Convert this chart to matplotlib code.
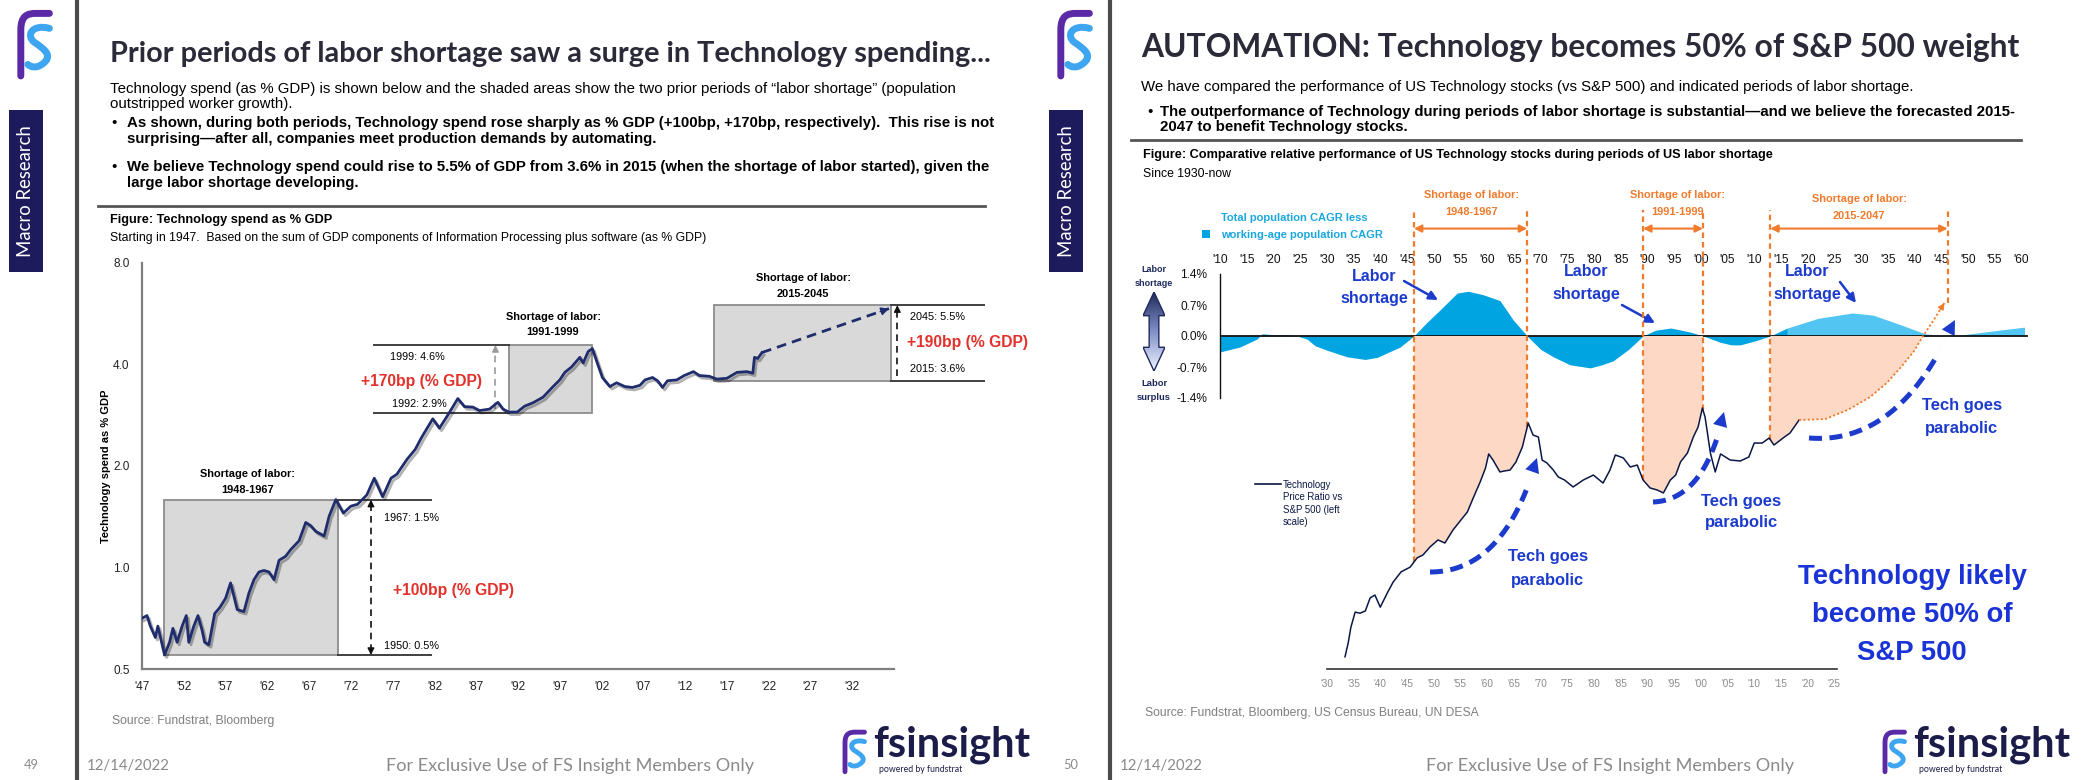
import numpy as np
import matplotlib
matplotlib.use("Agg")
import matplotlib.pyplot as plt
import matplotlib.patheffects as pe
from matplotlib.patches import Rectangle, Polygon, FancyArrowPatch, PathPatch
from matplotlib.lines import Line2D
from matplotlib.path import Path
from matplotlib.colors import LinearSegmentedColormap

# ---------------- DATA : left chart (Technology spend as % GDP) ----------------
spend_years = [1947.0, 1947.6, 1948.0, 1948.6, 1948.9, 1949.7, 1950.3, 1950.7, 1951.2, 1951.8,
               1952.3, 1952.6, 1953.2, 1953.7, 1954.2, 1954.5, 1955.0, 1955.7, 1956.3, 1957.0,
               1957.6, 1958.4, 1959.2, 1959.8, 1960.4, 1961.0, 1961.6, 1962.2, 1962.8, 1963.4,
               1964.2, 1964.8, 1965.8, 1966.6, 1967.2, 1967.8, 1968.8, 1969.4, 1970.2, 1971.1,
               1972.0, 1972.8, 1973.9, 1974.8, 1975.8, 1976.8, 1977.5, 1978.7, 1979.7, 1980.5,
               1981.8, 1982.6, 1983.6, 1984.8, 1985.6, 1986.6, 1987.4, 1988.6, 1989.6, 1990.2,
               1990.9, 1991.9, 1992.8, 1993.8, 1995.0, 1996.2, 1997.0, 1997.6, 1998.4, 1999.4,
               1999.8, 2000.4, 2000.9, 2001.4, 2002.1, 2003.0, 2003.8, 2004.8, 2005.7, 2006.6,
               2007.2, 2008.1, 2008.7, 2009.3, 2009.9, 2011.0, 2011.9, 2013.0, 2013.7, 2014.9,
               2015.8, 2017.0, 2018.2, 2019.4, 2020.1, 2020.3, 2020.7, 2021.2]
spend_pct = [0.707, 0.72, 0.67, 0.62, 0.67, 0.55, 0.60, 0.66, 0.60, 0.67,
             0.72, 0.60, 0.67, 0.72, 0.65, 0.60, 0.59, 0.73, 0.76, 0.81,
             0.90, 0.75, 0.74, 0.84, 0.92, 0.97, 0.98, 0.97, 0.92, 1.05,
             1.08, 1.13, 1.20, 1.36, 1.33, 1.28, 1.24, 1.42, 1.59, 1.45,
             1.52, 1.54, 1.64, 1.84, 1.62, 1.84, 1.89, 2.09, 2.24, 2.44,
             2.76, 2.59, 2.83, 3.17, 3.00, 2.99, 2.92, 2.95, 3.09, 2.95,
             2.89, 2.89, 3.01, 3.08, 3.20, 3.44, 3.60, 3.79, 3.93, 4.20,
             4.04, 4.37, 4.46, 4.10, 3.66, 3.44, 3.53, 3.44, 3.42, 3.47,
             3.60, 3.66, 3.58, 3.42, 3.58, 3.60, 3.71, 3.81, 3.71, 3.69,
             3.62, 3.64, 3.79, 3.81, 3.77, 4.20, 4.17, 4.34]
spend_proj_years = [2021.2, 2036.4]
spend_proj_pct = [4.34, 5.86]
left_xticks = list(range(1947, 2033, 5))
left_xticklabels = ["'47", "'52", "'57", "'62", "'67", "'72", "'77", "'82", "'87", "'92",
                    "'97", "'02", "'07", "'12", "'17", "'22", "'27", "'32"]
left_yticks = [0.5, 1, 2, 4, 8]
left_yticklabels = ["0.5", "1.0", "2.0", "4.0", "8.0"]
box_start = [1949.6, 1990.9, 2015.5]
box_end = [1970.4, 2000.8, 2036.7]
box_low = [0.55, 2.87, 3.58]
box_high = [1.59, 4.57, 6.0]
box_labels = ["1948-1967", "1991-1999", "2015-2045"]

# ---------------- DATA : right chart ----------------
cagr_years = [1910.0, 1913.7, 1916.9, 1917.9, 1920.0, 1922.5, 1924.4, 1926.3, 1927.8, 1930.0,
              1933.8, 1937.2, 1939.5, 1941.3, 1943.7, 1946.3, 1948.5, 1951.2, 1954.4, 1956.5,
              1959.3, 1962.4, 1964.9, 1967.5, 1970.0, 1972.4, 1975.5, 1979.3, 1981.5, 1983.6,
              1986.5, 1989.2, 1991.5, 1994.4, 1998.0, 2000.5, 2003.6, 2005.7, 2007.4, 2010.2,
              2013.0, 2016.2]
cagr_diff = [-0.36, -0.25, -0.07, 0.05, 0.03, 0.03, 0.0, -0.07, -0.22, -0.32,
             -0.47, -0.53, -0.48, -0.38, -0.25, 0.0, 0.28, 0.59, 0.97, 1.01,
             0.93, 0.80, 0.36, 0.0, -0.30, -0.47, -0.65, -0.72, -0.65, -0.56,
             -0.30, 0.0, 0.13, 0.18, 0.09, 0.0, -0.14, -0.20, -0.20, -0.11,
             0.0, 0.18]
cagr_fc_years = [2016.2, 2022.0, 2028.4, 2032.3, 2037.5, 2042.0, 2046.3, 2048.6, 2054.4, 2060.6]
cagr_fc = [0.18, 0.40, 0.52, 0.47, 0.25, 0.05, 0.0, 0.02, 0.11, 0.20]
top_xticks = list(range(1910, 2061, 5))
top_xticklabels = ["'%02d" % (y % 100) for y in top_xticks]
cagr_yticks = [-1.4, -0.7, 0.0, 0.7, 1.4]
cagr_yticklabels = ["-1.4%", "-0.7%", "0.0%", "0.7%", "1.4%"]

price_years = [1933.4, 1934.0, 1934.5, 1935.3, 1936.2, 1937.2, 1938.1, 1939.0, 1940.0, 1941.3,
               1942.4, 1943.9, 1945.6, 1946.9, 1948.0, 1949.3, 1950.8, 1952.1, 1953.6, 1955.1,
               1956.3, 1957.4, 1958.7, 1959.7, 1960.3, 1961.1, 1962.4, 1963.2, 1964.3, 1965.4,
               1966.6, 1967.7, 1968.6, 1969.6, 1970.3, 1971.2, 1972.4, 1973.3, 1974.5, 1976.1,
               1978.0, 1979.9, 1981.7, 1983.0, 1984.0, 1985.5, 1986.8, 1988.1, 1989.2, 1990.5,
               1991.8, 1993.0, 1994.3, 1995.3, 1996.2, 1997.5, 1998.6, 1999.5, 2000.3, 2000.8,
               2001.8, 2002.7, 2003.7, 2005.5, 2007.4, 2009.0, 2010.0, 2011.5, 2012.8, 2013.7,
               2015.4, 2016.7, 2018.4]
price_ratio = [0.0113, 0.0130, 0.0152, 0.0177, 0.0175, 0.0179, 0.0204, 0.0210, 0.0186, 0.0214,
               0.0239, 0.0265, 0.0278, 0.0305, 0.0314, 0.0340, 0.0365, 0.0354, 0.0403, 0.0446,
               0.0483, 0.0556, 0.0653, 0.0751, 0.0865, 0.0814, 0.0722, 0.0729, 0.0736, 0.0798,
               0.0928, 0.1180, 0.1046, 0.1025, 0.0814, 0.0790, 0.0736, 0.0687, 0.0666, 0.0621,
               0.0666, 0.0700, 0.0646, 0.0736, 0.0856, 0.0831, 0.0759, 0.0774, 0.0666, 0.0615,
               0.0603, 0.0585, 0.0666, 0.0700, 0.0798, 0.0873, 0.1025, 0.1134, 0.1372, 0.1253,
               0.0873, 0.0722, 0.0865, 0.0814, 0.0806, 0.0839, 0.0965, 0.0965, 0.1015, 0.0946,
               0.1015, 0.1067, 0.1216]
proj_years = [2018.4, 2023.3, 2027.5, 2031.7, 2034.8, 2037.5, 2039.8, 2041.5, 2043.6, 2045.6]
proj_ratio = [0.1216, 0.1228, 0.1345, 0.1532, 0.1763, 0.2070, 0.2406, 0.2797, 0.3317, 0.3934]
bottom_xticks = list(range(1930, 2026, 5))
bottom_xticklabels = ["'%02d" % (y % 100) for y in bottom_xticks]
period_start = [1946.3, 1989.2, 2013.0]
period_end = [1967.5, 2000.4, 2046.2]
period_labels = ["1948-1967", "1991-1999", "2015-2047"]

# ---------------- figure helpers ----------------
W, H = 2081, 780
fig = plt.figure(figsize=(W / 100, H / 100), dpi=100)
fig.patch.set_facecolor("white")
renderer = fig.canvas.get_renderer()

NARROW = ["Liberation Sans Narrow", "Liberation Sans", "DejaVu Sans"]
HUMAN = ["Lato", "Open Sans", "DejaVu Sans"]
plt.rcParams["font.family"] = NARROW


def fx(x):
    return x / W


def fy(y):
    return 1 - y / H


def T(x, y, s, width=None, size=10, ha="left", va="center", rot=0, **kw):
    t = fig.text(fx(x), fy(y), s, fontsize=size, ha=ha, va=va, rotation=rot, **kw)
    if width is not None:
        bb = t.get_window_extent(renderer)
        cur = bb.height if rot in (90, 270) else bb.width
        if cur > 0:
            t.set_fontsize(size * width / cur)
    return t


def TL(x, ys, lines, width, fit=0, **kw):
    t = T(x, ys[fit], lines[fit], width=width, **kw)
    s = t.get_fontsize()
    for i, (y, line) in enumerate(zip(ys, lines)):
        if i != fit:
            T(x, y, line, size=s, **kw)
    return s


def L(xs, ys, **kw):
    ln = Line2D([fx(v) for v in xs], [fy(v) for v in ys], transform=fig.transFigure, **kw)
    fig.add_artist(ln)
    return ln


def arrow(p0, p1, color, lw=1.5, ms=12, style="-|>"):
    a = FancyArrowPatch((fx(p0[0]), fy(p0[1])), (fx(p1[0]), fy(p1[1])),
                        transform=fig.transFigure, arrowstyle=style, mutation_scale=ms,
                        color=color, lw=lw, shrinkA=0, shrinkB=0)
    fig.add_artist(a)


def bez(p0, c, p1, n=60):
    t = np.linspace(0, 1, n)[:, None]
    return (1 - t) ** 2 * np.array(p0) + 2 * (1 - t) * t * np.array(c) + t ** 2 * np.array(p1)


def draw_icon(x0, y0, w, h, lw):
    def P(u, v):
        return (fx(x0 + u * w), fy(y0 + v * h))
    purple = Path([P(0.2, 0.97), P(0.2, 0.3), P(0.2, 0.08), P(0.35, 0.05), P(0.55, 0.05), P(0.85, 0.05)],
                  [Path.MOVETO, Path.LINETO, Path.CURVE4, Path.CURVE4, Path.CURVE4, Path.LINETO])
    fig.add_artist(PathPatch(purple, transform=fig.transFigure, fill=False, edgecolor="#5b2aa6",
                             lw=lw, capstyle="round", joinstyle="round"))
    blue = Path([P(0.85, 0.27), P(0.45, 0.2), P(0.3, 0.38), P(0.52, 0.48),
                 P(0.75, 0.58), P(0.95, 0.68), P(0.68, 0.8), P(0.55, 0.86), P(0.42, 0.84), P(0.36, 0.8)],
                [Path.MOVETO, Path.CURVE4, Path.CURVE4, Path.CURVE4, Path.CURVE4, Path.CURVE4,
                 Path.CURVE4, Path.CURVE4, Path.CURVE4, Path.CURVE4])
    fig.add_artist(PathPatch(blue, transform=fig.transFigure, fill=False, edgecolor="#3ea6f0",
                             lw=lw, capstyle="round", joinstyle="round"))


def chrome(ox, page, vline_x):
    draw_icon(ox + 12, 10, 44, 68, 5)
    fig.add_artist(Rectangle((fx(ox + 9), fy(272)), 34 / W, 162 / H, transform=fig.transFigure,
                             facecolor="#1d1b5c", edgecolor="none"))
    T(ox + 26, 191, "Macro Research", width=132, rot=90, ha="center", color="white", family=HUMAN)
    L([vline_x, vline_x], [0, 780], color="#4a4a4a", lw=3)
    T(ox + 31, 765, page, width=15, ha="center", color="#8a8a8a", family=HUMAN)
    T(vline_x + 10, 766, "12/14/2022", width=84, color="#8a8a8a", family=HUMAN)
    T(ox + 386, 766, "For Exclusive Use of FS Insight Members Only", width=366,
      color="#8a8a8a", family=HUMAN)
    draw_icon(ox + 839, 730, 30, 43, 3.5)
    T(ox + 873, 745, "fsinsight", width=157, color="#1c1c4a", family=HUMAN, weight="bold")
    T(ox + 879, 770, "powered by fundstrat", width=84, color="#1c1c4a", family=HUMAN)


# ======================= LEFT SLIDE =======================
chrome(0, "49", 77)
T(110, 54, "Prior periods of labor shortage saw a surge in Technology spending...", width=883,
  color="#2a2a38", family=HUMAN, weight="bold")
s = T(110, 89, "Technology spend (as % GDP) is shown below and the shaded areas show the two prior "
      "periods of \u201clabor shortage\u201d (population", width=845).get_fontsize()
T(110, 104, "outstripped worker growth).", size=s)
T(111, 123, "\u2022", size=s)
sb = T(127, 123, "As shown, during both periods, Technology spend rose sharply as % GDP (+100bp, +170bp, "
       "respectively).  This rise is not", width=871, weight="bold").get_fontsize()
T(127, 139, "surprising\u2014after all, companies meet production demands by automating.", size=sb,
  weight="bold")
T(111, 167, "\u2022", size=s)
T(127, 167, "We believe Technology spend could rise to 5.5% of GDP from 3.6% in 2015 (when the shortage "
  "of labor started), given the", size=sb, weight="bold")
T(127, 183, "large labor shortage developing.", size=sb, weight="bold")
L([98, 985], [206, 206], color="#555555", lw=2)
T(110, 220, "Figure: Technology spend as % GDP", width=223, weight="bold")
T(110, 238, "Starting in 1947.  Based on the sum of GDP components of Information Processing plus "
  "software (as % GDP)", width=595)

axL = fig.add_axes([fx(142), fy(669), (894 - 142) / W, (669 - 263) / H])
axL.set_yscale("log", base=2)
axL.set_xlim(1947, 2037)
axL.set_ylim(0.5, 8)
axL.patch.set_alpha(0)
for i in range(3):
    axL.add_patch(Rectangle((box_start[i], box_low[i]), box_end[i] - box_start[i],
                            box_high[i] - box_low[i], facecolor="#d9d9d9", edgecolor="#8c8c8c",
                            lw=1.3, zorder=1, clip_on=False))
NAVY = "#1f2d6d"
axL.plot(spend_years, spend_pct, color=NAVY, lw=2.0, zorder=4, solid_joinstyle="round",
         path_effects=[pe.SimpleLineShadow(offset=(1.5, -1.8), alpha=0.3), pe.Normal()])
axL.plot(spend_proj_years, spend_proj_pct, color=NAVY, lw=2.0, ls=(0, (3.5, 2.2)), zorder=4)
ax_f = 0.93
axL.annotate("", xy=(spend_proj_years[1], spend_proj_pct[1]),
             xytext=(spend_proj_years[0] + ax_f * (spend_proj_years[1] - spend_proj_years[0]),
                     spend_proj_pct[0] * (spend_proj_pct[1] / spend_proj_pct[0]) ** ax_f),
             arrowprops=dict(arrowstyle="-|>", color=NAVY, lw=1, mutation_scale=12, shrinkA=0, shrinkB=0),
             zorder=5)
# extension lines
ext = [(box_end[0], 1981.6), (1974.75, box_start[1]), (box_end[2], 2047.8)]
for i, (a, b) in enumerate(ext):
    for v in (box_low[i], box_high[i]):
        axL.plot([a, b], [v, v], color="#404040", lw=1.4, clip_on=False, zorder=2)
# dashed measurement arrows
meas_x = [1974.4, 1989.3, 2037.4]
meas_col = ["#111111", "#9a9a9a", "#111111"]
for i in range(3):
    axL.plot([meas_x[i], meas_x[i]], [box_low[i] * 1.03, box_high[i] * 0.97], color=meas_col[i],
             lw=1.2, ls=(0, (4, 3)), clip_on=False, zorder=3)
    axL.annotate("", xy=(meas_x[i], box_high[i]), xytext=(meas_x[i], box_high[i] * 0.96),
                 arrowprops=dict(arrowstyle="-|>", color=meas_col[i], lw=1, mutation_scale=10,
                                 shrinkA=0, shrinkB=0), annotation_clip=False)
axL.annotate("", xy=(meas_x[0], box_low[0]), xytext=(meas_x[0], box_low[0] * 1.04),
             arrowprops=dict(arrowstyle="-|>", color="#111111", lw=1, mutation_scale=10,
                             shrinkA=0, shrinkB=0), annotation_clip=False)
for sp in ("top", "right"):
    axL.spines[sp].set_visible(False)
for sp in ("left", "bottom"):
    axL.spines[sp].set_color("#7f7f7f")
    axL.spines[sp].set_linewidth(1.6)
axL.set_yticks(left_yticks)
axL.set_yticklabels(left_yticklabels)
axL.yaxis.set_minor_locator(matplotlib.ticker.NullLocator())
axL.set_xticks(left_xticks)
axL.set_xticklabels(left_xticklabels)
axL.tick_params(axis="both", length=0, labelsize=8.5, colors="#222222")
axL.tick_params(axis="y", pad=9)
axL.tick_params(axis="x", pad=9)
T(106, 466, "Technology spend as % GDP", width=153, rot=90, ha="center", weight="bold")

sl = TL(248, [474, 490], ["Shortage of labor:", box_labels[0]], width=95, ha="center", weight="bold")
TL(553, [317, 332], ["Shortage of labor:", box_labels[1]], width=95, ha="center", weight="bold")
TL(803, [278, 294], ["Shortage of labor:", box_labels[2]], width=95, ha="center", weight="bold")
sv = T(384, 518, "1967: 1.5%", width=55).get_fontsize()
T(384, 646, "1950: 0.5%", size=sv)
T(390, 357, "1999: 4.6%", size=sv)
T(392, 404, "1992: 2.9%", size=sv)
T(910, 317, "2045: 5.5%", size=sv)
T(910, 369, "2015: 3.6%", size=sv)
RED = "#e3302a"
sr = T(393, 591, "+100bp (% GDP)", width=122, color=RED, weight="bold").get_fontsize()
T(361, 381, "+170bp (% GDP)", size=sr, color=RED, weight="bold")
T(907, 342, "+190bp (% GDP)", size=sr, color=RED, weight="bold")
T(112, 721, "Source: Fundstrat, Bloomberg", width=162, color="#7f7f7f")

# ======================= RIGHT SLIDE =======================
chrome(1040, "50", 1110)
T(1141, 48, "AUTOMATION: Technology becomes 50% of S&P 500 weight", width=879,
  color="#2a2a38", family=HUMAN, weight="bold")
s2 = T(1141, 87, "We have compared the performance of US Technology stocks (vs S&P 500) and indicated "
       "periods of labor shortage.", width=772).get_fontsize()
T(1147, 112, "\u2022", size=s2)
sb2 = T(1160, 112, "The outperformance of Technology during periods of labor shortage is substantial\u2014and "
        "we believe the forecasted 2015-", width=859, weight="bold").get_fontsize()
T(1160, 127, "2047 to benefit Technology stocks.", size=sb2, weight="bold")
L([1131, 2021], [140, 140], color="#555555", lw=2)
T(1143, 155, "Figure: Comparative relative performance of US Technology stocks during periods of US labor "
  "shortage", width=634, weight="bold")
T(1143, 174, "Since 1930-now", width=88)

X0, X1 = 1910, 2062
axP = fig.add_axes([fx(1220), fy(669), (2032 - 1220) / W, (669 - 210) / H], zorder=2)
axC = fig.add_axes([fx(1220), fy(398), (2032 - 1220) / W, (398 - 274) / H], zorder=1)
for a in (axP, axC):
    a.set_xlim(X0, X1)
    a.patch.set_alpha(0)
axP.set_yscale("log")
axP.set_ylim(0.01, 1.0)
axC.set_ylim(-1.4, 1.4)

CYAN = "#00a4e0"
CYAN_FC = "#52c5f3"
axC.fill_between(cagr_years, cagr_diff, 0, color=CYAN, lw=0)
axC.fill_between(cagr_fc_years, cagr_fc, 0, color=CYAN_FC, lw=0)
axC.plot([1910, 2061], [0, 0], color="#111111", lw=1.3)
for sp in ("top", "right", "bottom"):
    axC.spines[sp].set_visible(False)
axC.spines["left"].set_color("#111111")
axC.spines["left"].set_linewidth(1)
axC.set_yticks(cagr_yticks)
axC.set_yticklabels(cagr_yticklabels)
axC.xaxis.tick_top()
axC.set_xticks(top_xticks)
axC.set_xticklabels(top_xticklabels)
axC.tick_params(axis="both", length=0, labelsize=8.6, colors="#111111")
axC.tick_params(axis="y", pad=9)
axC.tick_params(axis="x", pad=6)

# zero line expressed in the price axes
ydisp = axC.transData.transform((2000, 0))[1]
zero_p = axP.transData.inverted().transform((2000, ydisp))[1]

PEACH = "#fcd8c5"
ORANGE = "#f07b2d"
py = np.array(price_years)
pr = np.array(price_ratio)
jy = np.array(proj_years)
jr = np.array(proj_ratio)
for i in range(2):
    a, b = period_start[i], period_end[i]
    m = (py > a) & (py < b)
    xs = [a] + list(py[m]) + [b]
    ys = [np.interp(a, py, pr)] + list(pr[m]) + [np.interp(b, py, pr)]
    poly = [(a, zero_p), (b, zero_p)] + list(zip(xs[::-1], ys[::-1]))
    axP.add_patch(Polygon(poly, closed=True, facecolor=PEACH, edgecolor="none", zorder=1))
# third period: price then projected path
a = period_start[2]
m = py > a
xs = [a] + list(py[m]) + list(jy[1:][jr[1:] <= zero_p])
ys = [np.interp(a, py, pr)] + list(pr[m]) + list(jr[1:][jr[1:] <= zero_p])
poly = [(a, zero_p), (xs[-1], zero_p)] + list(zip(xs[::-1], ys[::-1]))
axP.add_patch(Polygon(poly, closed=True, facecolor=PEACH, edgecolor="none", zorder=1))

axP.plot(price_years, price_ratio, color="#0b1846", lw=1.1, zorder=4)
axP.plot(proj_years, proj_ratio, color=ORANGE, lw=1.3, ls=(0, (1.2, 1.2)), zorder=4)
axP.annotate("", xy=(jy[-1], jr[-1]), xytext=(jy[-2] + 0.6 * (jy[-1] - jy[-2]),
                                               jr[-2] * (jr[-1] / jr[-2]) ** 0.6),
             arrowprops=dict(arrowstyle="-|>", color=ORANGE, lw=0.8, mutation_scale=10, shrinkA=0, shrinkB=0))
for i in range(3):
    a, b = period_start[i], period_end[i]
    lo_a = np.interp(a, py, pr)
    lo_b = np.interp(b, py, pr) if b < py[-1] else np.interp(b, jy, jr)
    axP.plot([a, a], [lo_a, 1.0], color=ORANGE, lw=1.6, ls=(0, (2.5, 1.8)), zorder=3, clip_on=False)
    axP.plot([b, b], [lo_b, 1.0], color=ORANGE, lw=1.6, ls=(0, (2.5, 1.8)), zorder=3, clip_on=False)
    axP.annotate("", xy=(b, 0.83), xytext=(a, 0.83),
                 arrowprops=dict(arrowstyle="<|-|>", color=ORANGE, lw=1.5, mutation_scale=11,
                                 shrinkA=0, shrinkB=0))
for sp in ("top", "right", "left"):
    axP.spines[sp].set_visible(False)
axP.spines["bottom"].set_bounds(1930, 2025.5)
axP.spines["bottom"].set_color("#333333")
axP.spines["bottom"].set_linewidth(1.2)
axP.set_yticks([])
axP.yaxis.set_minor_locator(matplotlib.ticker.NullLocator())
axP.set_xticks(bottom_xticks)
axP.set_xticklabels(bottom_xticklabels)
axP.tick_params(axis="x", length=0, labelsize=7.2, colors="#8a8a8a", pad=7)

# period labels
TL(1472, [195, 212], ["Shortage of labor:", period_labels[0]], width=95, ha="center",
   weight="bold", color=ORANGE)
TL(1678, [195, 212], ["Shortage of labor:", period_labels[1]], width=95, ha="center",
   weight="bold", color=ORANGE)
TL(1859, [199, 216], ["Shortage of labor:", period_labels[2]], width=95, ha="center",
   weight="bold", color=ORANGE)

# legend for CAGR
fig.add_artist(Rectangle((fx(1202), fy(238)), 8 / W, 8 / H, transform=fig.transFigure,
                         facecolor=CYAN, edgecolor="none"))
TL(1221, [218, 235], ["Total population CAGR less", "working-age population CAGR"], width=161,
   fit=1, weight="bold", color="#1aa7e0")

# labor shortage / surplus gradient arrow
DARK = "#1f2a5c"
TL(1154, [270, 283], ["Labor", "shortage"], width=38, fit=1, ha="center", weight="bold", color=DARK)
TL(1154, [383, 397], ["Labor", "surplus"], width=34, fit=1, ha="center", weight="bold", color=DARK)
axg = fig.add_axes([fx(1143), fy(371), 22 / W, 79 / H])
axg.axis("off")
axg.set_xlim(0, 1)
axg.set_ylim(0, 1)
shape = Polygon([(0.5, 1), (1, 0.7), (0.72, 0.7), (0.72, 0.3), (1, 0.3), (0.5, 0), (0, 0.3),
                 (0.28, 0.3), (0.28, 0.7), (0, 0.7)], closed=True, facecolor="none",
                edgecolor=DARK, lw=1)
axg.add_patch(shape)
grad = np.linspace(0, 1, 256).reshape(-1, 1)
cm = LinearSegmentedColormap.from_list("g", [DARK, "#8090c8", "#f0f4ff"])
im = axg.imshow(grad, extent=[0, 1, 0, 1], aspect="auto", cmap=cm, origin="upper")
im.set_clip_path(shape)

# price legend
L([1255, 1281], [484, 484], color="#0b1846", lw=1.2)
TL(1283, [485, 497, 510, 522], ["Technology", "Price Ratio vs", "S&P 500 (left", "scale)"],
   width=60, fit=1, color="#0b1846")

# blue annotations
BLUE = "#1c3bcc"
TL(1374, [276, 298], ["Labor", "shortage"], width=68, fit=1, ha="center", weight="bold",
   color=BLUE)
TL(1586, [272, 295], ["Labor", "shortage"], width=68, fit=1, ha="center", weight="bold", color=BLUE)
TL(1807, [271, 295], ["Labor", "shortage"], width=68, fit=1, ha="center", weight="bold", color=BLUE)
arrow((1404, 281), (1438, 300), BLUE, lw=1.8, ms=13)
arrow((1622, 305), (1655, 323), BLUE, lw=1.8, ms=13)
arrow((1840, 282), (1856, 303), BLUE, lw=1.8, ms=13)

TL(1548, [557, 580], ["Tech goes", "parabolic"], width=73, fit=1, ha="center", weight="bold",
   color=BLUE)
TL(1741, [501, 523], ["Tech goes", "parabolic"], width=73, fit=1, ha="center", weight="bold",
   color=BLUE)
TL(1962, [405, 428], ["Tech goes", "parabolic"], width=73, fit=1, ha="center", weight="bold",
   color=BLUE)
for p0, c, p1 in [((1430, 572), (1505, 572), (1537, 458)),
                  ((1653, 502), (1705, 500), (1724, 412)),
                  ((1809, 438), (1900, 445), (1955, 320))]:
    pts = bez(p0, c, p1)
    k = int(len(pts) * 0.86)
    L(pts[:k, 0], pts[:k, 1], color=BLUE, lw=3.6, dashes=(2.6, 1.5), solid_capstyle="butt")
    arrow(tuple(pts[k - 4]), tuple(pts[-1]), BLUE, lw=0.01, ms=26)

TL(1912, [577, 615, 653], ["Technology likely", "become 50% of", "S&P 500"], width=229,
   ha="center", weight="bold", color="#1a33d6")
T(1145, 713, "Source: Fundstrat, Bloomberg, US Census Bureau, UN DESA", width=332, color="#7f7f7f")

fig.savefig("out.png", dpi=100, facecolor="white")
